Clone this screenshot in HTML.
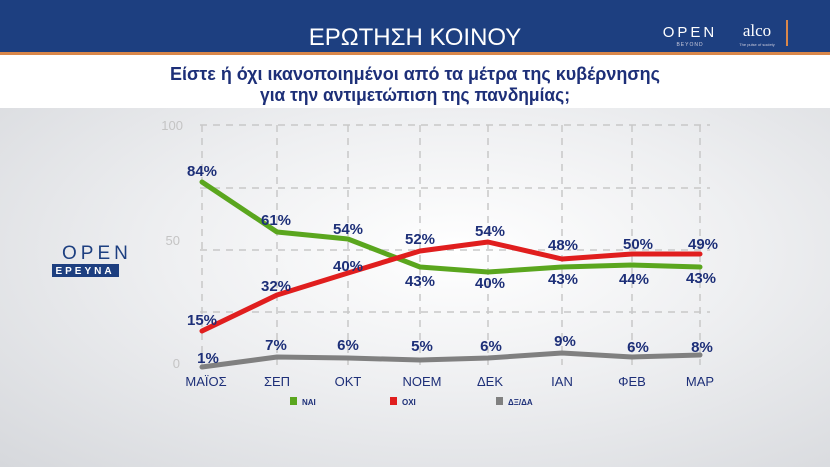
<!DOCTYPE html>
<html><head><meta charset="utf-8"><style>
body{margin:0;width:830px;height:467px;overflow:hidden;font-family:"Liberation Sans","DejaVu Sans",sans-serif}
.hdr{position:absolute;left:0;top:0;width:830px;height:52px;background:#1d3f80}
.or{position:absolute;left:0;top:52px;width:830px;height:3px;background:#d9874a}
.wh{position:absolute;left:0;top:55px;width:830px;height:53px;background:#fff}
.bg{position:absolute;left:0;top:108px;width:830px;height:359px;background:radial-gradient(ellipse at 55% 40%,#ffffff 0%,#eeeff1 45%,#d6d8dc 100%)}
</style></head><body>
<div class="hdr"></div><div class="or"></div><div class="wh"></div><div class="bg"></div>
<svg width="830" height="467" style="position:absolute;left:0;top:0" font-family="Liberation Sans, DejaVu Sans, sans-serif">
<text x="415" y="45" fill="#fff" font-size="24" text-anchor="middle" font-family="Liberation Sans Narrow, Liberation Sans, sans-serif">ΕΡΩΤΗΣΗ ΚΟΙΝΟΥ</text>
<text x="690" y="37" fill="#fff" font-size="15" text-anchor="middle" letter-spacing="3">OPEN</text>
<text x="690" y="46" fill="#ccd" font-size="5" text-anchor="middle" letter-spacing="1">BEYOND</text>
<text x="757" y="36" fill="#fff" font-size="17" text-anchor="middle" font-family="Liberation Serif, serif">alco</text>
<text x="757" y="46" fill="#ccd" font-size="4" text-anchor="middle">The pulse of society</text>
<rect x="786" y="20" width="2" height="26" fill="#d9874a"/>
<text x="415" y="80" fill="#1d2f78" font-size="18" font-weight="bold" text-anchor="middle" textLength="490" lengthAdjust="spacingAndGlyphs">Είστε ή όχι ικανοποιημένοι από τα μέτρα της κυβέρνησης</text>
<text x="415" y="101" fill="#1d2f78" font-size="18" font-weight="bold" text-anchor="middle" textLength="310" lengthAdjust="spacingAndGlyphs">για την αντιμετώπιση της πανδημίας;</text>
<g stroke="#c8c8c8" stroke-width="1.5" stroke-dasharray="7,6">
<line x1="200" y1="125" x2="710" y2="125"/><line x1="200" y1="188" x2="710" y2="188"/><line x1="200" y1="250" x2="710" y2="250"/><line x1="200" y1="312" x2="710" y2="312"/>
<line x1="202" y1="125" x2="202" y2="365"/><line x1="277" y1="125" x2="277" y2="365"/><line x1="348" y1="125" x2="348" y2="365"/><line x1="420" y1="125" x2="420" y2="365"/><line x1="488" y1="125" x2="488" y2="365"/><line x1="562" y1="125" x2="562" y2="365"/><line x1="632" y1="125" x2="632" y2="365"/><line x1="700" y1="125" x2="700" y2="365"/>
</g>
<g fill="#c4c4c4" font-size="13" text-anchor="end"><text x="183" y="130">100</text><text x="180" y="245">50</text><text x="180" y="368">0</text></g>
<text x="62" y="259" fill="#1d3f80" font-size="19" letter-spacing="4">OPEN</text>
<rect x="52" y="264" width="67" height="13" fill="#1d3f80"/>
<text x="85" y="274" fill="#fff" font-size="10" font-weight="bold" text-anchor="middle" letter-spacing="3">ΕΡΕΥΝΑ</text>
<g fill="none" stroke-width="5" stroke-linejoin="round" stroke-linecap="round">
<polyline stroke="#5aa61e" points="202,182 277,232 348,239 420,267 488,272 562,267 632,265 700,267"/>
<polyline stroke="#e01e1e" points="202,331 277,295 348,273 420,251 488,242 562,259 632,254 700,254"/>
<polyline stroke="#808080" points="202,367 277,357 348,358 420,360 488,358 562,353 632,357 700,355"/>
</g>
<g fill="#1d2f78" font-size="15" font-weight="bold" text-anchor="middle">
<text x="202" y="176">84%</text><text x="276" y="225">61%</text><text x="348" y="234">54%</text><text x="420" y="286">43%</text><text x="490" y="288">40%</text><text x="563" y="284">43%</text><text x="634" y="284">44%</text><text x="701" y="283">43%</text>
<text x="202" y="325">15%</text><text x="276" y="291">32%</text><text x="348" y="271">40%</text><text x="420" y="244">52%</text><text x="490" y="236">54%</text><text x="563" y="250">48%</text><text x="638" y="249">50%</text><text x="703" y="249">49%</text>
<text x="208" y="363">1%</text><text x="276" y="350">7%</text><text x="348" y="350">6%</text><text x="422" y="351">5%</text><text x="491" y="351">6%</text><text x="565" y="346">9%</text><text x="638" y="352">6%</text><text x="702" y="352">8%</text>
</g>
<g fill="#1d2f78" font-size="13" text-anchor="middle">
<text x="206" y="386">ΜΑΪΟΣ</text><text x="277" y="386">ΣΕΠ</text><text x="348" y="386">ΟΚΤ</text><text x="422" y="386">ΝΟΕΜ</text><text x="490" y="386">ΔΕΚ</text><text x="562" y="386">ΙΑΝ</text><text x="632" y="386">ΦΕΒ</text><text x="700" y="386">ΜΑΡ</text>
</g>
<rect x="290" y="397" width="7" height="8" fill="#5aa61e"/><text x="302" y="405" fill="#1d2f78" font-size="8" font-weight="bold">ΝΑΙ</text>
<rect x="390" y="397" width="7" height="8" fill="#e01e1e"/><text x="402" y="405" fill="#1d2f78" font-size="8" font-weight="bold">ΟΧΙ</text>
<rect x="496" y="397" width="7" height="8" fill="#808080"/><text x="508" y="405" fill="#1d2f78" font-size="8" font-weight="bold">ΔΞ/ΔΑ</text>
</svg>
</body></html>
